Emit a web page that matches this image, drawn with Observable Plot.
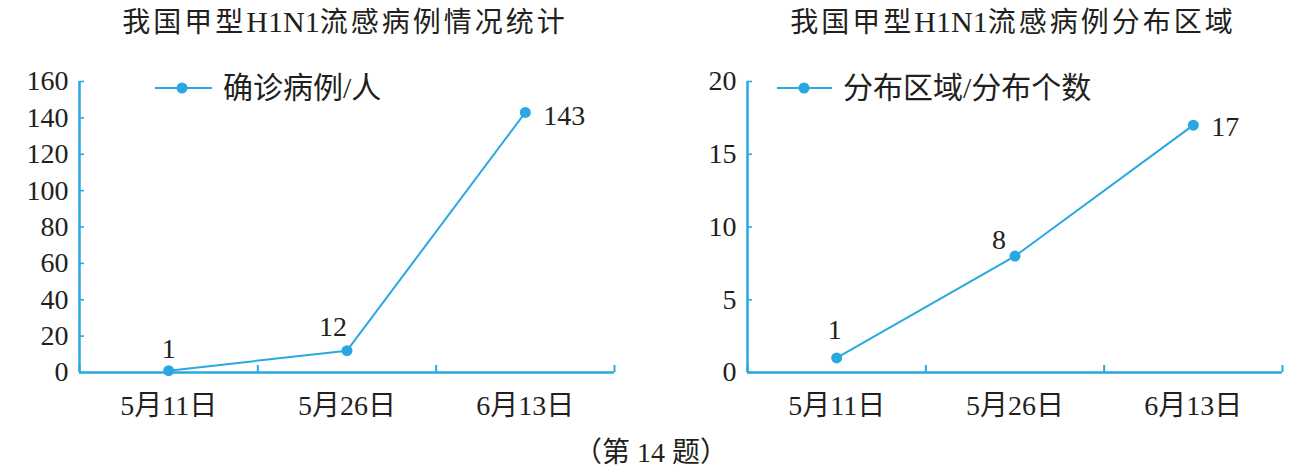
<!DOCTYPE html>
<html>
<head>
<meta charset="utf-8">
<script src="https://cdn.jsdelivr.net/npm/d3@7"></script>
<script src="https://cdn.jsdelivr.net/npm/@observablehq/plot@0.6"></script>
<style>
  html, body { margin: 0; padding: 0; background: #fff; }
  #root { position: relative; width: 1307px; height: 476px; overflow: hidden;
    font-family: "Liberation Serif", "Noto Sans CJK SC", serif; color: #231f20; }
  .title { position: absolute; white-space: nowrap; transform: translate(-50%, -50%);
    font-size: 28px; line-height: 1; }
  .title .cjk { letter-spacing: 3px; }
  .title .lat { font-size: 30px; letter-spacing: 0; }
  .legend { position: absolute; white-space: nowrap; display: flex; align-items: center;
    font-size: 30px; line-height: 1; transform: translateY(-50%); }
  .legend svg { margin-right: 11px; }
  .caption { position: absolute; white-space: nowrap; transform: translate(-50%, -50%);
    font-size: 28px; line-height: 1; }
  .chart { position: absolute; top: 50px; }
</style>
</head>
<body>
<div id="root"></div>
<script>
const categories = ["5月11日", "5月26日", "6月13日"];
const cases = [1, 12, 143];
const regions = [1, 8, 17];
const caseTicks = [0, 20, 40, 60, 80, 100, 120, 140, 160];
const regionTicks = [0, 5, 10, 15, 20];
const leftTitle = ["我国甲型", "H1N1", "流感病例情况统计"];
const rightTitle = ["我国甲型", "H1N1", "流感病例分布区域"];
const leftSeries = "确诊病例/人";
const rightSeries = "分布区域/分布个数";
const captionText = "（第 14 题）";

const BLUE = "#2aa7e1";
const TEXT = "#231f20";
const FONT = "'Liberation Serif', 'Noto Sans CJK SC', serif";

const root = document.getElementById("root");

function makeChart(values, ticks, yMax, opts) {
  const data = categories.map((c, i) => ({cat: c, pos: i + 0.5, value: values[i], idx: i}));
  const centers = categories.map((c, i) => i + 0.5);
  const bounds = d3.range(categories.length + 1);
  const labelMarks = opts.labels.map((l, i) =>
    Plot.text(data.filter(d => d.idx === i), {
      x: "pos", y: "value", text: d => String(d.value),
      dx: l.dx, dy: l.dy, textAnchor: l.anchor || "middle",
      fill: TEXT, fontSize: 28, fontFamily: FONT
    })
  );
  return Plot.plot({
    width: opts.width,
    height: 380,
    marginLeft: opts.marginLeft,
    marginRight: opts.marginRight,
    marginTop: 31,
    marginBottom: 58,
    style: {fontFamily: FONT, fontSize: "28px", color: TEXT, background: "transparent", overflow: "visible"},
    x: {type: "linear", domain: [0, categories.length]},
    y: {domain: [0, yMax]},
    marks: [
      Plot.axisY(ticks, {tickSize: 0, tickPadding: 11, fontSize: 28, fill: TEXT, label: null}),
      Plot.axisY(ticks, {tickSize: -5, stroke: BLUE, strokeWidth: 1.6, fill: "none", label: null}),
      Plot.axisX(centers, {tickSize: 0, tickPadding: 23, fontSize: 28, fill: TEXT, label: null,
        tickFormat: d => categories[Math.floor(d)]}),
      Plot.axisX(bounds, {tickSize: -7, stroke: BLUE, strokeWidth: 2, fill: "none", label: null}),
      Plot.ruleX([0], {stroke: BLUE, strokeWidth: 2.5}),
      Plot.ruleY([0], {stroke: BLUE, strokeWidth: 2.5}),
      Plot.line(data, {x: "pos", y: "value", stroke: BLUE, strokeWidth: 2}),
      Plot.dot(data, {x: "pos", y: "value", fill: BLUE, r: 5.5}),
      ...labelMarks
    ]
  });
}

function place(el, left, cls) {
  el.classList.add(cls);
  el.style.left = left + "px";
  root.appendChild(el);
}

const left = makeChart(cases, caseTicks, 160, {
  width: 650, marginLeft: 79, marginRight: 36,
  labels: [{dx: 0, dy: -22}, {dx: -14, dy: -24}, {dx: 18, dy: 4, anchor: "start"}]
});
place(left, 0, "chart");

const right = makeChart(regions, regionTicks, 20, {
  width: 657, marginLeft: 97, marginRight: 25,
  labels: [{dx: -2, dy: -28}, {dx: -16, dy: -16}, {dx: 18, dy: 2, anchor: "start"}]
});
place(right, 650, "chart");

function addTitle(parts, x, y) {
  const d = document.createElement("div");
  d.className = "title";
  parts.forEach((p, i) => {
    const s = document.createElement("span");
    s.className = i === 1 ? "lat" : "cjk";
    s.textContent = p;
    d.appendChild(s);
  });
  d.style.left = x + "px";
  d.style.top = y + "px";
  root.appendChild(d);
}
function addText(cls, text, x, y) {
  const d = document.createElement("div");
  d.className = cls;
  d.textContent = text;
  d.style.left = x + "px";
  d.style.top = y + "px";
  root.appendChild(d);
}
addTitle(leftTitle, 345, 22);
addTitle(rightTitle, 1013, 22);
addText("caption", captionText, 651, 453);

function addLegend(text, x, y, w, dotX) {
  const d = document.createElement("div");
  d.className = "legend";
  d.style.left = x + "px";
  d.style.top = y + "px";
  const svg = d3.create("svg").attr("width", w).attr("height", 14);
  svg.append("line").attr("x1", 0).attr("x2", w).attr("y1", 7).attr("y2", 7)
    .attr("stroke", BLUE).attr("stroke-width", 2);
  svg.append("circle").attr("cx", dotX).attr("cy", 7).attr("r", 5.5).attr("fill", BLUE);
  d.appendChild(svg.node());
  const s = document.createElement("span");
  s.textContent = text;
  d.appendChild(s);
  root.appendChild(d);
}
addLegend(leftSeries, 155, 88, 57, 27);
addLegend(rightSeries, 777, 88, 55, 27);
</script>
</body>
</html>
